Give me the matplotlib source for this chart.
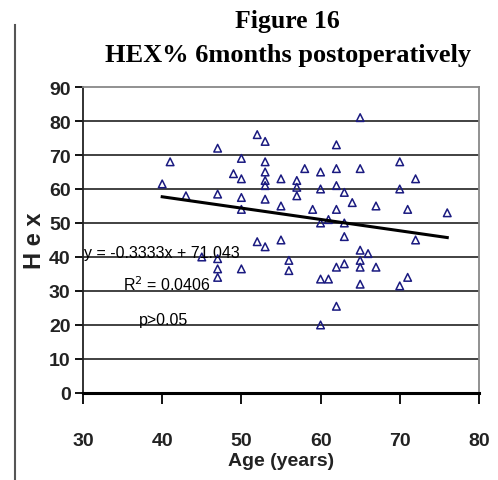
import matplotlib
matplotlib.use("Agg")
import matplotlib.pyplot as plt
from matplotlib.lines import Line2D

age = [40, 41, 43, 45, 47, 47, 47, 47, 47, 49,
       50, 50, 50, 50, 50, 52, 52, 53, 53, 53,
       53, 53, 53, 53, 55, 55, 55, 56, 56, 57,
       57, 57, 58, 59, 60, 60, 60, 60, 60, 61,
       61, 62, 62, 62, 62, 62, 62, 63, 63, 63,
       63, 64, 65, 65, 65, 65, 65, 65, 66, 67,
       67, 70, 70, 70, 71, 71, 72, 72, 76]
hex_pct = [61.5, 68, 58, 40, 72, 58.5, 39.5, 36.5, 34, 64.5,
           69, 63, 57.5, 54, 36.5, 76, 44.5, 74, 68, 65,
           62.5, 61, 57, 43, 63, 55, 45, 39, 36, 62.5,
           60.5, 58, 66, 54, 65, 60, 50, 33.5, 20, 51,
           33.5, 73, 66, 61, 54, 37, 25.5, 59, 50, 46,
           38, 56, 81, 66, 42, 39, 37, 32, 41, 55,
           37, 68, 60, 31.5, 54, 34, 63, 45, 53]

slope = -0.3333
intercept = 71.043
fit_x = [40, 76]

x_ticks = [30, 40, 50, 60, 70, 80]
y_ticks = [0, 10, 20, 30, 40, 50, 60, 70, 80, 90]

fig = plt.figure(figsize=(4.98, 4.81), dpi=100)
ax = fig.add_axes([0.1667, 0.181, 0.795, 0.636])

sans = ["Liberation Sans", "DejaVu Sans"]

# grid lines like the excel chart
for v in y_ticks[1:-1]:
    ax.axhline(v, color="#333333", lw=1.3, zorder=1)

ax.scatter(age, hex_pct, marker="^", s=30, facecolors="none",
           edgecolors="#1a1a80", linewidths=1.1, zorder=3)

fit_y = [slope * x + intercept for x in fit_x]
ax.plot(fit_x, fit_y, color="black", lw=2.2, zorder=4)

ax.set_xlim(30, 80)
ax.set_ylim(0, 90)
ax.set_xticks(x_ticks)
ax.set_yticks(y_ticks)
ax.set_xticklabels([str(t) for t in x_ticks], family=sans, fontsize=14, fontweight="bold", color="#222222")
ax.set_yticklabels([str(t) for t in y_ticks], family=sans, fontsize=14, fontweight="bold", color="#222222")
ax.tick_params(axis="x", direction="out", length=8, width=1.3, pad=20)
ax.tick_params(axis="y", direction="out", length=6, width=1.3, pad=3)

for s in ["top", "right"]:
    ax.spines[s].set_color("#888888")
    ax.spines[s].set_linewidth(1.3)
ax.spines["left"].set_color("#222222")
ax.spines["left"].set_linewidth(1.3)
ax.spines["bottom"].set_color("black")
ax.spines["bottom"].set_linewidth(2.2)

ax.set_xlabel("Age (years)", family=sans, fontsize=14, fontweight="bold", color="#222222", labelpad=2)
ax.set_ylabel("H e x", family=sans, fontsize=17, fontweight="bold", color="#222222", labelpad=2)

ax.text(30.1, 40.0, "y = -0.3333x + 71.043", family=sans, fontsize=11.5, va="baseline", zorder=5)
ax.text(35, 30.2, "R$^2$ = 0.0406", family=sans, fontsize=11.5, va="baseline", zorder=5)
ax.text(37, 20.2, "p>0.05", family=sans, fontsize=11.5, va="baseline", zorder=5)

fig.text(0.578, 0.955, "Figure 16", family="Liberation Serif", fontsize=18.5,
         fontweight="bold", ha="center", va="center")
fig.text(0.578, 0.885, "HEX% 6months postoperatively", family="Liberation Serif",
         fontsize=19, fontweight="bold", ha="center", va="center")

fig.add_artist(Line2D([0.03, 0.03], [0.0, 0.945], color="#555555", lw=1.5))

fig.savefig("out.png", dpi=100)
